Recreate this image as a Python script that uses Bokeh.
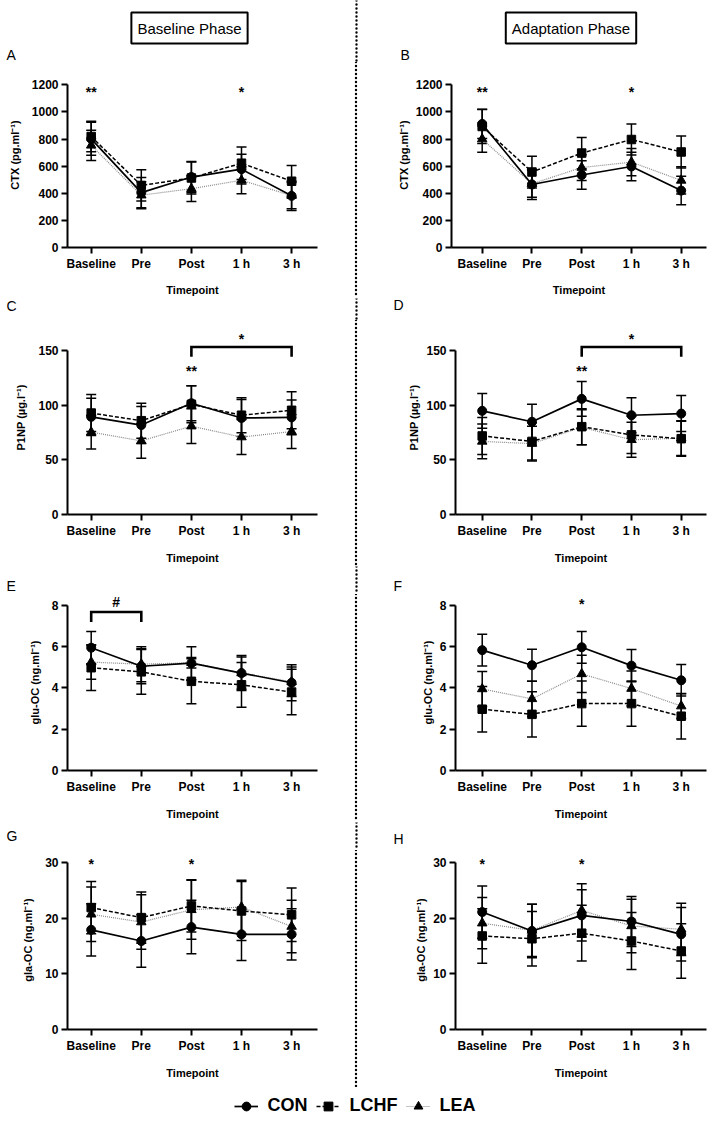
from bokeh.plotting import figure
from bokeh.models import (Range1d, FixedTicker, Label, Span, Whisker, TeeHead,
                          ColumnDataSource, Legend, LegendItem, Div)
from bokeh.layouts import row, column
from bokeh.embed import file_html
from bokeh.resources import INLINE
from bokeh.core.properties import value

FONT = "Liberation Sans"

# ---------------- data ----------------
timepoints = ["Baseline", "Pre", "Post", "1 h", "3 h"]
groups = ["CON", "LCHF", "LEA"]

# A  CTX (pg.ml-1), baseline phase
ctx_base_con = [802, 405, 520, 578, 381]
ctx_base_con_sd = [122, 112, 115, 110, 108]
ctx_base_lchf = [819, 458, 513, 622, 489]
ctx_base_lchf_sd = [112, 115, 118, 120, 116]
ctx_base_lea = [754, 386, 434, 496, 383]
ctx_base_lea_sd = [112, 100, 95, 100, 97]
# B  CTX, adaptation phase
ctx_adapt_con = [912, 465, 535, 598, 420]
ctx_adapt_con_sd = [108, 110, 105, 105, 105]
ctx_adapt_lchf = [893, 557, 697, 797, 705]
ctx_adapt_lchf_sd = [125, 117, 115, 115, 118]
ctx_adapt_lea = [800, 470, 590, 630, 495]
ctx_adapt_lea_sd = [97, 100, 95, 100, 100]
# C  P1NP (ug.l-1), baseline phase
p1np_base_con = [89.5, 82, 102, 88.5, 89]
p1np_base_con_sd = [17, 17, 16, 17, 16]
p1np_base_lchf = [93, 86, 101, 91, 95.5]
p1np_base_lchf_sd = [17, 16, 17, 16, 17]
p1np_base_lea = [75.5, 67.5, 81, 71, 76]
p1np_base_lea_sd = [15.5, 16, 16, 16, 15.5]
# D  P1NP, adaptation phase
p1np_adapt_con = [95, 85, 106, 91, 92.5]
p1np_adapt_con_sd = [16, 16, 16, 16, 16.5]
p1np_adapt_lchf = [72, 67, 80.5, 73, 69.5]
p1np_adapt_lchf_sd = [17, 17, 16.5, 17, 16]
p1np_adapt_lea = [67, 65, 80, 68.5, 70]
p1np_adapt_lea_sd = [16, 16, 16, 16, 16]
# E  glu-OC (ng.ml-1), baseline phase
gluoc_base_con = [5.95, 5.05, 5.2, 4.72, 4.25]
gluoc_base_con_sd = [0.78, 0.85, 0.8, 0.85, 0.87]
gluoc_base_lchf = [4.98, 4.78, 4.32, 4.15, 3.8]
gluoc_base_lchf_sd = [1.1, 1.08, 1.09, 1.08, 1.1]
gluoc_base_lea = [5.25, 5.15, 5.22, 4.72, 4.3]
gluoc_base_lea_sd = [0.83, 0.85, 0.25, 0.78, 0.72]
# F  glu-OC, adaptation phase
gluoc_adapt_con = [5.83, 5.1, 5.97, 5.08, 4.37]
gluoc_adapt_con_sd = [0.77, 0.78, 0.77, 0.78, 0.76]
gluoc_adapt_lchf = [2.97, 2.72, 3.24, 3.24, 2.63]
gluoc_adapt_lchf_sd = [1.1, 1.1, 1.1, 1.1, 1.1]
gluoc_adapt_lea = [3.95, 3.47, 4.68, 3.97, 3.12]
gluoc_adapt_lea_sd = [0.85, 0.85, 0.9, 0.85, 0.6]
# G  gla-OC (ng.ml-1), baseline phase
glaoc_base_con = [17.9, 15.9, 18.4, 17.1, 17.1]
glaoc_base_con_sd = [4.7, 4.7, 4.8, 4.7, 4.6]
glaoc_base_lchf = [21.9, 20.1, 22.2, 21.3, 20.6]
glaoc_base_lchf_sd = [4.7, 4.6, 4.7, 5.3, 4.8]
glaoc_base_lea = [20.7, 19.3, 21.5, 22.0, 18.5]
glaoc_base_lea_sd = [4.9, 4.9, 5.3, 4.8, 4.7]
# H  gla-OC, adaptation phase
glaoc_adapt_con = [21.1, 17.7, 20.5, 19.4, 17.1]
glaoc_adapt_con_sd = [4.7, 4.8, 4.6, 4.5, 4.8]
glaoc_adapt_lchf = [16.8, 16.3, 17.3, 15.9, 14.1]
glaoc_adapt_lchf_sd = [4.9, 4.9, 5.0, 5.1, 4.9]
glaoc_adapt_lea = [19.1, 17.8, 21.4, 18.6, 18.0]
glaoc_adapt_lea_sd = [4.6, 4.7, 4.8, 4.8, 4.7]

# significance marks: timepoint -> symbol ; brackets: (from, to, symbol)
ctx_base_sig = {"Baseline": "**", "1 h": "*"}
ctx_adapt_sig = {"Baseline": "**", "1 h": "*"}
p1np_base_sig = {"Post": "**"}
p1np_base_bracket = ("Post", "3 h", "*")
p1np_adapt_sig = {"Post": "**"}
p1np_adapt_bracket = ("Post", "3 h", "*")
gluoc_base_bracket = ("Baseline", "Pre", "#")
gluoc_adapt_sig = {"Post": "*"}
glaoc_base_sig = {"Baseline": "*", "Post": "*"}
glaoc_adapt_sig = {"Baseline": "*", "Post": "*"}

# ---------------- layout geometry (pixels) ----------------
PAGE_W = 709
TICK_H = 167          # px from 0 to the top tick
COLS = {
    "L": dict(width=354, bl=67, br=37, x0=-0.473, x1=4.517, ls=8),
    "B": dict(width=351, bl=93, br=3, x0=-0.617, x1=4.509, ls=3),
    "R": dict(width=351, bl=97, br=3, x0=-0.537, x1=4.508, ls=3),
}
DIV_W = 4
DIV_X = 356           # x of the dotted divider
# strip = band above the panel row (letters, headers); height = panel figures
ROWS = [
    dict(strip=62, height=236, bb=46, xls=10),
    dict(strip=22, height=246, bb=48, xls=11),
    dict(strip=28, height=228, bb=50, xls=11),
    dict(strip=28, height=237, bb=58, xls=11),
]
LEGEND_H = 37

STYLE = {
    "CON": dict(color="black", lw=1.7, dash="solid", marker="circle", size=9),
    "LCHF": dict(color="black", lw=1.5, dash="4 2", marker="square", size=8.5),
    "LEA": dict(color="#8a8a8a", lw=1.2, dash="1 1", marker="triangle", size=9.5),
}


def style_axes(p, ylabel, yticks, ymax, label_standoff, xlabel_standoff):
    for ax in (p.xaxis[0], p.yaxis[0]):
        ax.axis_line_width = 2
        ax.axis_line_color = "black"
        ax.major_tick_line_width = 2
        ax.major_tick_out = 6
        ax.major_tick_in = 0
        ax.minor_tick_line_color = None
        ax.major_label_text_font = FONT
        ax.major_label_text_font_style = "bold"
        ax.major_label_text_font_size = "12px"
        ax.major_label_text_color = "black"
        ax.axis_label_text_font = FONT
        ax.axis_label_text_font_style = "bold"
        ax.axis_label_text_font_size = "11px"
        ax.axis_label_text_color = "black"
    xa = p.xaxis[0]
    xa.ticker = FixedTicker(ticks=list(range(len(timepoints))))
    xa.major_label_overrides = {i: t for i, t in enumerate(timepoints)}
    xa.major_label_standoff = 3
    xa.axis_label = "Timepoint"
    xa.axis_label_standoff = xlabel_standoff
    ya = p.yaxis[0]
    ya.ticker = FixedTicker(ticks=yticks)
    ya.bounds = (0, ymax)
    ya.major_label_standoff = 3
    ya.axis_label = ylabel
    ya.axis_label_standoff = label_standoff


def make_panel(col, rw, letter, ylabel, ymax, yticks, series,
               sig=None, bracket=None, sig_frac=0.97):
    g = COLS[col]
    r = ROWS[rw]
    frame_h = r["height"] - r["bb"]
    top = ymax * frame_h / TICK_H
    p = figure(width=g["width"], height=r["height"],
               x_range=Range1d(g["x0"], g["x1"]), y_range=Range1d(0, top),
               min_border_left=g["bl"], min_border_right=g["br"],
               min_border_top=0, min_border_bottom=r["bb"],
               output_backend="svg", toolbar_location=None)
    p.outline_line_color = None
    p.grid.visible = False
    p.background_fill_color = "white"
    p.border_fill_color = "white"
    style_axes(p, ylabel, yticks, ymax, g["ls"], r["xls"])

    xs = list(range(len(timepoints)))
    for grp in ["LEA", "LCHF", "CON"]:
        mean, sd = series[grp]
        st = STYLE[grp]
        src = ColumnDataSource(dict(
            x=xs, y=mean,
            upper=[m + s for m, s in zip(mean, sd)],
            lower=[m - s for m, s in zip(mean, sd)]))
        p.add_layout(Whisker(source=src, base="x", upper="upper", lower="lower",
                             line_color="black", line_width=1.5,
                             upper_head=TeeHead(size=10, line_width=1.5, line_color="black"),
                             lower_head=TeeHead(size=10, line_width=1.5, line_color="black")))
        p.line("x", "y", source=src, line_color=st["color"], line_width=st["lw"],
               line_dash=st["dash"])
        p.scatter("x", "y", source=src, marker=st["marker"], size=st["size"],
                  fill_color="black", line_color="black")

    if sig:
        for tp, sym in sig.items():
            p.text(x=[timepoints.index(tp)], y=[ymax * sig_frac], text=[sym],
                   text_font=value(FONT), text_font_style="bold", text_font_size="14px",
                   text_align="center", text_baseline="middle", text_color="black")
    if bracket:
        a, b, sym = bracket
        i0, i1 = timepoints.index(a), timepoints.index(b)
        btop = ymax * bracket_top_frac[letter]
        blow = ymax * bracket_leg_frac[letter]
        p.line(x=[i0, i0, i1, i1], y=[blow, btop, btop, blow], line_color="black",
               line_width=2.6, line_join="miter")
        p.text(x=[(i0 + i1) / 2], y=[ymax * bracket_sym_frac[letter]], text=[sym],
               text_font=value(FONT), text_font_style="bold", text_font_size="14px",
               text_align="center", text_baseline="middle", text_color="black")
    return p


def dotted_div(h):
    """Piece of the dotted vertical divider between the two phases."""
    svg = ('<svg width="%d" height="%d" style="display:block">'
           '<line x1="%g" y1="0" x2="%g" y2="%d" stroke="black" stroke-width="2.4" '
           'stroke-dasharray="0 4" stroke-linecap="round"/></svg>'
           % (DIV_W, h, DIV_W / 2, DIV_W / 2, h))
    return Div(text=svg, width=DIV_W, height=h, margin=0)


def make_strip(rw, letters, headers=()):
    """Full-width band above a row of panels: panel letters, phase headers."""
    h = ROWS[rw]["strip"]
    s = figure(width=PAGE_W, height=h, x_range=Range1d(0, PAGE_W), y_range=Range1d(h, 0),
               x_axis_type=None, y_axis_type=None, min_border=0,
               output_backend="svg", toolbar_location=None)
    s.outline_line_color = None
    s.background_fill_color = "white"
    s.border_fill_color = "white"
    s.add_layout(Span(location=DIV_X, dimension="height", line_color="black",
                      line_width=2.4, line_dash="0 4", line_cap="round"))
    for txt, x, y in letters:
        s.add_layout(Label(x=x, y=y, text=txt, text_font=FONT, text_font_size="14px",
                           text_align="left", text_baseline="middle", text_color="black"))
    for txt, x, y in headers:
        s.add_layout(Label(x=x, y=y, text=txt, text_font=FONT,
                           text_font_size="15px", text_align="center",
                           text_baseline="middle", text_color="black", padding=(6, 7),
                           border_line_color="black", border_line_width=2,
                           background_fill_color="white"))
    return s


bracket_top_frac = {"C": 1.024, "D": 1.024, "E": 0.96}
bracket_leg_frac = {"C": 0.964, "D": 0.964, "E": 0.90}
bracket_sym_frac = {"C": 1.07, "D": 1.07, "E": 1.02}

pA = make_panel("L", 0, "A", "CTX (pg.ml⁻¹)", 1200, [0, 200, 400, 600, 800, 1000, 1200],
                {"CON": (ctx_base_con, ctx_base_con_sd),
                 "LCHF": (ctx_base_lchf, ctx_base_lchf_sd),
                 "LEA": (ctx_base_lea, ctx_base_lea_sd)},
                sig=ctx_base_sig, sig_frac=0.955)
pB = make_panel("B", 0, "B", "CTX (pg.ml⁻¹)", 1200, [0, 200, 400, 600, 800, 1000, 1200],
                {"CON": (ctx_adapt_con, ctx_adapt_con_sd),
                 "LCHF": (ctx_adapt_lchf, ctx_adapt_lchf_sd),
                 "LEA": (ctx_adapt_lea, ctx_adapt_lea_sd)},
                sig=ctx_adapt_sig, sig_frac=0.955)
pC = make_panel("L", 1, "C", "P1NP (µg.l⁻¹)", 150, [0, 50, 100, 150],
                {"CON": (p1np_base_con, p1np_base_con_sd),
                 "LCHF": (p1np_base_lchf, p1np_base_lchf_sd),
                 "LEA": (p1np_base_lea, p1np_base_lea_sd)},
                sig=p1np_base_sig, bracket=p1np_base_bracket, sig_frac=0.88)
pD = make_panel("R", 1, "D", "P1NP (µg.l⁻¹)", 150, [0, 50, 100, 150],
                {"CON": (p1np_adapt_con, p1np_adapt_con_sd),
                 "LCHF": (p1np_adapt_lchf, p1np_adapt_lchf_sd),
                 "LEA": (p1np_adapt_lea, p1np_adapt_lea_sd)},
                sig=p1np_adapt_sig, bracket=p1np_adapt_bracket, sig_frac=0.88)
pE = make_panel("L", 2, "E", "glu-OC (ng.ml⁻¹)", 8, [0, 2, 4, 6, 8],
                {"CON": (gluoc_base_con, gluoc_base_con_sd),
                 "LCHF": (gluoc_base_lchf, gluoc_base_lchf_sd),
                 "LEA": (gluoc_base_lea, gluoc_base_lea_sd)},
                bracket=gluoc_base_bracket)
pF = make_panel("R", 2, "F", "glu-OC (ng.ml⁻¹)", 8, [0, 2, 4, 6, 8],
                {"CON": (gluoc_adapt_con, gluoc_adapt_con_sd),
                 "LCHF": (gluoc_adapt_lchf, gluoc_adapt_lchf_sd),
                 "LEA": (gluoc_adapt_lea, gluoc_adapt_lea_sd)},
                sig=gluoc_adapt_sig, sig_frac=1.01)
pG = make_panel("L", 3, "G", "gla-OC (ng.ml⁻¹)", 30, [0, 10, 20, 30],
                {"CON": (glaoc_base_con, glaoc_base_con_sd),
                 "LCHF": (glaoc_base_lchf, glaoc_base_lchf_sd),
                 "LEA": (glaoc_base_lea, glaoc_base_lea_sd)},
                sig=glaoc_base_sig, sig_frac=0.99)
pH = make_panel("R", 3, "H", "gla-OC (ng.ml⁻¹)", 30, [0, 10, 20, 30],
                {"CON": (glaoc_adapt_con, glaoc_adapt_con_sd),
                 "LCHF": (glaoc_adapt_lchf, glaoc_adapt_lchf_sd),
                 "LEA": (glaoc_adapt_lea, glaoc_adapt_lea_sd)},
                sig=glaoc_adapt_sig, sig_frac=0.99)

s1 = make_strip(0, [("A", 6, 54.5), ("B", 400, 54.5)],
                headers=[("Baseline Phase", 189, 27.5), ("Adaptation Phase", 570.5, 27.5)])
s2 = make_strip(1, [("C", 6, 7), ("D", 393, 6)])
s3 = make_strip(2, [("E", 6, 19), ("F", 393, 19)])
s4 = make_strip(3, [("G", 6, 13), ("H", 393, 16)])

# legend strip (its sample renderers sit outside the visible range)
leg = figure(width=PAGE_W, height=LEGEND_H, x_range=Range1d(100, 101),
             y_range=Range1d(100, 101), x_axis_type=None, y_axis_type=None, min_border=0,
             output_backend="svg", toolbar_location=None)
leg.outline_line_color = None
leg.grid.visible = False
items = []
for grp, mean in zip(groups, [ctx_base_con, ctx_base_lchf, ctx_base_lea]):
    st = STYLE[grp]
    src = ColumnDataSource(dict(x=list(range(len(timepoints))), y=mean))
    lr = leg.line("x", "y", source=src, line_color=st["color"], line_width=st["lw"],
                  line_dash=st["dash"])
    sr = leg.scatter("x", "y", source=src, marker=st["marker"], fill_color="black",
                     line_color="black")
    items.append(LegendItem(label=grp, renderers=[lr, sr]))
legend = Legend(items=items, orientation="horizontal", location="center",
                glyph_width=24, glyph_height=22, label_standoff=10, spacing=8,
                padding=0, margin=0, border_line_color=None,
                background_fill_alpha=0, label_text_font=FONT,
                label_text_font_style="bold", label_text_font_size="18px",
                label_text_color="black")
leg.add_layout(legend)

layout = column(
    s1, row(pA, dotted_div(ROWS[0]["height"]), pB),
    s2, row(pC, dotted_div(ROWS[1]["height"]), pD),
    s3, row(pE, dotted_div(ROWS[2]["height"]), pF),
    s4, row(pG, dotted_div(ROWS[3]["height"]), pH),
    leg)

with open("out.html", "w") as f:
    f.write(file_html(layout, INLINE))
